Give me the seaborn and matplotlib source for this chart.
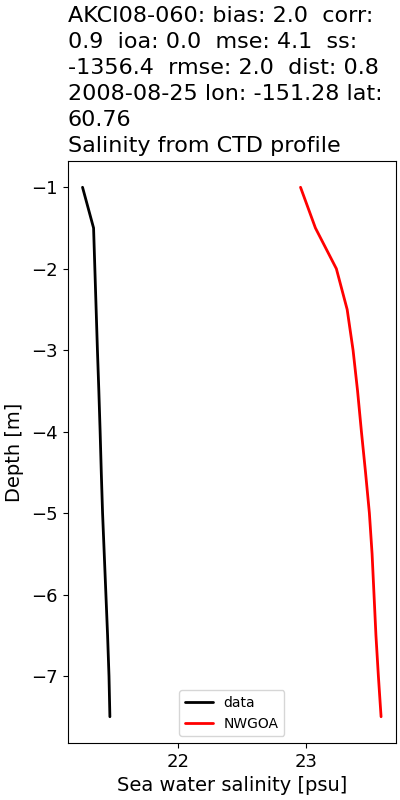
import matplotlib
matplotlib.use("Agg")
import matplotlib.pyplot as plt
import seaborn as sns
import pandas as pd

depth = [-1.0, -1.5, -2.0, -2.5, -3.0, -3.5, -4.0, -4.5, -5.0, -5.5, -6.0, -6.5, -7.0, -7.5]
sal_data = [21.259, 21.345, 21.355, 21.365, 21.375, 21.386, 21.396, 21.405, 21.415, 21.428, 21.441, 21.454, 21.465, 21.472]
sal_model = [22.956, 23.072, 23.235, 23.319, 23.365, 23.400, 23.430, 23.462, 23.492, 23.513, 23.528, 23.543, 23.562, 23.583]
series_names = ["data", "NWGOA"]
colors = {"data": "black", "NWGOA": "red"}

title = ("AKCI08-060: bias: 2.0  corr:\n0.9  ioa: 0.0  mse: 4.1  ss:\n"
         "-1356.4  rmse: 2.0  dist: 0.8\n2008-08-25 lon: -151.28 lat:\n60.76\n"
         "Salinity from CTD profile")

df = pd.concat([
    pd.DataFrame({"depth": depth, "sal": sal_data, "series": series_names[0]}),
    pd.DataFrame({"depth": depth, "sal": sal_model, "series": series_names[1]}),
])

sns.set_style("ticks")
plt.rcParams["font.family"] = ["DejaVu Sans"]
plt.rcParams.update({
    "text.color": "black", "axes.labelcolor": "black",
    "xtick.color": "black", "ytick.color": "black",
    "axes.edgecolor": "black", "axes.linewidth": 0.8,
})

fig = plt.figure(figsize=(4, 8), dpi=100)
ax = fig.add_axes([0.169, 0.071, 0.821, 0.728])
sns.lineplot(data=df, x="sal", y="depth", hue="series", palette=colors,
             sort=False, orient="y", linewidth=2, ax=ax, estimator=None)
ax.set_xticks([22, 23])
ax.tick_params(labelsize=13, direction="out", length=3.5, width=0.8)
ax.set_xlabel("Sea water salinity [psu]", fontsize=14)
ax.set_ylabel("Depth [m]", fontsize=14, labelpad=5)
for s in ax.spines.values():
    s.set_visible(True)
    s.set_color("black")
    s.set_linewidth(0.8)
ax.set_title(title, loc="left", fontsize=16, pad=6, linespacing=1.38)
ax.legend(loc="lower center", fontsize=10, title=None)
fig.savefig("out.png", dpi=100)
